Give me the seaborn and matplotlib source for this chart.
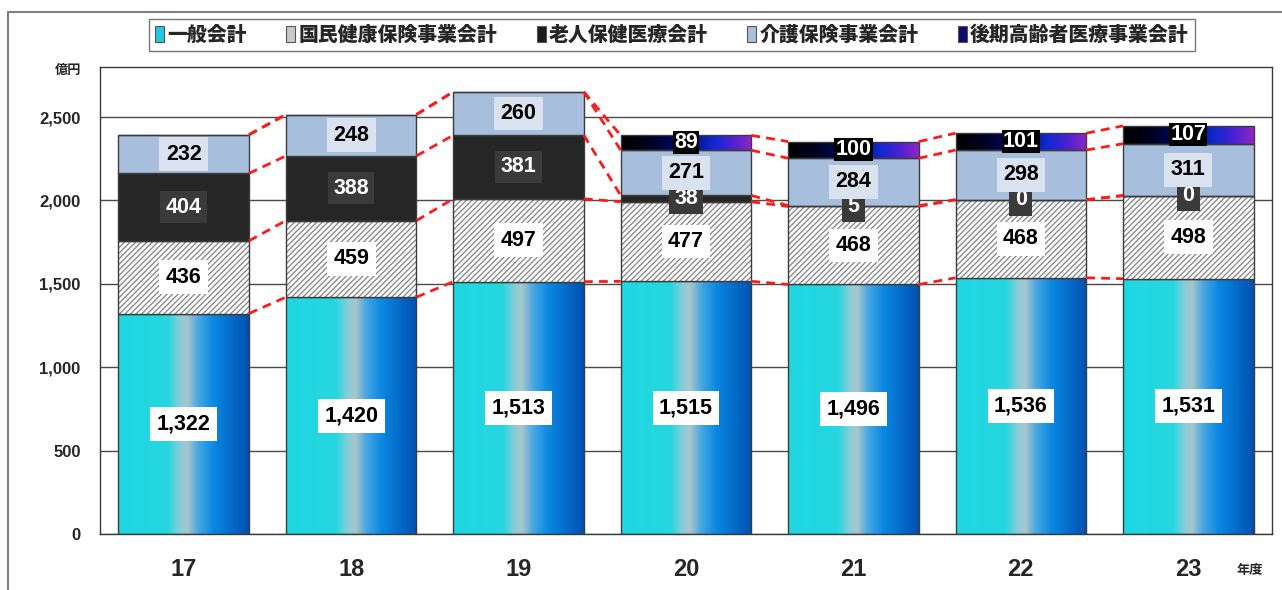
import numpy as np
import pandas as pd
import matplotlib
matplotlib.use("Agg")
import matplotlib.pyplot as plt
from matplotlib.colors import LinearSegmentedColormap
from matplotlib.patches import Patch, Rectangle
from matplotlib.lines import Line2D
import seaborn as sns

# ---- data (億円) ----
years = ["17", "18", "19", "20", "21", "22", "23"]
general = [1322, 1420, 1513, 1515, 1496, 1536, 1531]        # 一般会計
nhi = [436, 459, 497, 477, 468, 468, 498]                    # 国民健康保険事業会計
elderly = [404, 388, 381, 38, 5, 0, 0]                       # 老人保健医療会計
care = [232, 248, 260, 271, 284, 298, 311]                   # 介護保険事業会計
late_elderly = [0, 0, 0, 89, 100, 101, 107]                  # 後期高齢者医療事業会計

series_names = ["一般会計", "国民健康保険事業会計", "老人保健医療会計",
                "介護保険事業会計", "後期高齢者医療事業会計"]
series_values = [general, nhi, elderly, care, late_elderly]

sns.set_theme(style="white")
plt.rcParams["font.family"] = ["Liberation Sans", "Noto Sans CJK JP", "DejaVu Sans"]
plt.rcParams["hatch.linewidth"] = 1.0
JP = ["Noto Sans CJK JP", "DejaVu Sans"]

fig = plt.figure(figsize=(12.82, 5.90), dpi=100)
ax = fig.add_axes([100 / 1282, 1 - 534 / 590, 1172 / 1282, 467 / 590])

BAR_W = 0.78
EDGE = "#3c3c3c"

cmap_general = LinearSegmentedColormap.from_list(
    "general", [(0.0, "#1fd8e2"), (0.38, "#26d6e0"), (0.47, "#86ced8"),
                (0.53, "#a9c5cc"), (0.61, "#4aa8e2"), (0.73, "#0a88e2"),
                (1.0, "#0050b0")])
cmap_late = LinearSegmentedColormap.from_list(
    "late", [(0.0, "#000000"), (0.2, "#00001e"), (0.5, "#000a78"),
             (0.7, "#1028d0"), (0.85, "#4a22d2"), (1.0, "#9424c4")])
grad = np.linspace(0, 1, 256).reshape(1, -1)

df = pd.DataFrame({"year": years})
bottom = np.zeros(len(years))
tops = []
layer_patches = []
for name, vals in zip(series_names, series_values):
    n0 = len(ax.patches)
    sns.barplot(data=df.assign(v=vals), x="year", y="v", bottom=bottom.copy(),
                color="#ffffff", saturation=1, width=BAR_W, errorbar=None,
                ax=ax, zorder=2)
    patches = list(ax.patches[n0:])
    layer_patches.append(patches)
    bottom = bottom + np.array(vals, dtype=float)
    tops.append(bottom.copy())

def gradient_fill(patches, cmap):
    for p in patches:
        p.set_facecolor("none")
        x0, y0 = p.get_x(), p.get_y()
        w, h = p.get_width(), p.get_height()
        if h <= 0:
            continue
        im = ax.imshow(grad, cmap=cmap, extent=(x0, x0 + w, y0, y0 + h),
                       aspect="auto", interpolation="bicubic", zorder=1.8)
        im.set_clip_path(p)

for i, patches in enumerate(layer_patches):
    for p in patches:
        p.set_edgecolor(EDGE)
        p.set_linewidth(1.0)
    if i == 0:
        gradient_fill(patches, cmap_general)
    elif i == 1:
        for p in patches:
            p.set_facecolor("#ffffff")
            p.set_hatch("//////")
            p.set_edgecolor("#8c8c8c")
            p.set_linewidth(0)
            # crisp dark outline over the hatched face
            ax.add_patch(Rectangle((p.get_x(), p.get_y()), p.get_width(), p.get_height(),
                                   fill=False, ec=EDGE, lw=1.0, zorder=2.1))
    elif i == 2:
        for p in patches:
            p.set_facecolor("#262626")
    elif i == 3:
        for p in patches:
            p.set_facecolor("#a7bedc")
    elif i == 4:
        gradient_fill(patches, cmap_late)

# dashed connectors between neighbouring bars
for top in tops:
    for i in range(len(years) - 1):
        ax.plot([i + BAR_W / 2, i + 1 - BAR_W / 2], [top[i], top[i + 1]],
                color="#ff1a1a", lw=2.0, ls=(0, (3.2, 2.2)), zorder=3,
                solid_capstyle="butt", dash_capstyle="butt")

# value labels
label_styles = [
    dict(color="black", bbox=dict(boxstyle="square,pad=0.3", fc="white", ec="none")),
    dict(color="black", bbox=dict(boxstyle="square,pad=0.3", fc="white", ec="none")),
    dict(color="white", bbox=dict(boxstyle="square,pad=0.25", fc="#3a3a3a", ec="none")),
    dict(color="black", bbox=dict(boxstyle="square,pad=0.3", fc="#d9e2ee", ec="none")),
    dict(color="white", bbox=dict(boxstyle="square,pad=0.05", fc="#000000", ec="none")),
]
for k, vals in enumerate(series_values):
    base = tops[k] - np.array(vals, dtype=float)
    for i, v in enumerate(vals):
        if k == 4 and v == 0:
            continue
        ax.text(i, base[i] + v / 2, f"{v:,}", ha="center", va="center",
                fontsize=15.5, fontweight="bold", zorder=5, **label_styles[k])

# axes styling
ax.set_xlim(-0.5, len(years) - 0.5)
ax.set_ylim(0, 2800)
ax.set_yticks(np.arange(0, 2501, 500))
ax.set_yticklabels([f"{t:,}" for t in range(0, 2501, 500)])
ax.set_xticks(range(len(years)))
ax.set_xticklabels(years)
ax.set_xlabel("")
ax.set_ylabel("")
ax.set_axisbelow(True)
ax.yaxis.grid(True, color="#4a4a4a", lw=1.0, zorder=0)
ax.xaxis.grid(False)
for s in ax.spines.values():
    s.set_color("#3a3a3a")
    s.set_linewidth(1.0)
    s.set_visible(True)
ax.tick_params(axis="y", length=0, pad=14, labelsize=12)
ax.tick_params(axis="x", length=0, pad=17, labelsize=17)
for lab in ax.get_yticklabels() + ax.get_xticklabels():
    lab.set_fontweight("bold")
ax.set_xticks(np.arange(0.5, len(years) - 1, 1.0), minor=True)
ax.tick_params(axis="x", which="minor", direction="in", length=6, color="#3a3a3a", width=1)

# unit labels
fig.text(68 / 1282, 1 - 70 / 590, "億円", family=JP, fontsize=9.5,
         fontweight="bold", ha="center", va="center")
fig.text(1250 / 1282, 1 - 570 / 590, "年度", family=JP, fontsize=9.5,
         fontweight="bold", ha="center", va="center")

# outer frame (top and left edges)
fig.add_artist(Line2D([8 / 1282, 8 / 1282], [0, 1 - 12 / 590],
                      transform=fig.transFigure, color="#808080", lw=1.5))
fig.add_artist(Line2D([8 / 1282, 1], [1 - 12 / 590, 1 - 12 / 590],
                      transform=fig.transFigure, color="#808080", lw=1.5))

# legend
handle_colors = ["#22c8e0", "#c8c8c8", "#1a1a1a", "#a7bedc", "#0a0a70"]
handles = [Patch(facecolor=c, edgecolor="#555555", lw=0.8) for c in handle_colors]
leg = fig.legend(handles, series_names, loc="center", ncol=5,
                 bbox_to_anchor=(672 / 1282, 1 - 35 / 590),
                 prop=dict(family=JP, weight="heavy", size=14.3),
                 handlelength=0.45, handleheight=0.9, handletextpad=0.15,
                 columnspacing=2.0, borderpad=0.3, borderaxespad=0,
                 frameon=True, fancybox=False)
leg.get_frame().set_edgecolor("#555555")
leg.get_frame().set_linewidth(1.0)

fig.savefig("out.png", dpi=100)
